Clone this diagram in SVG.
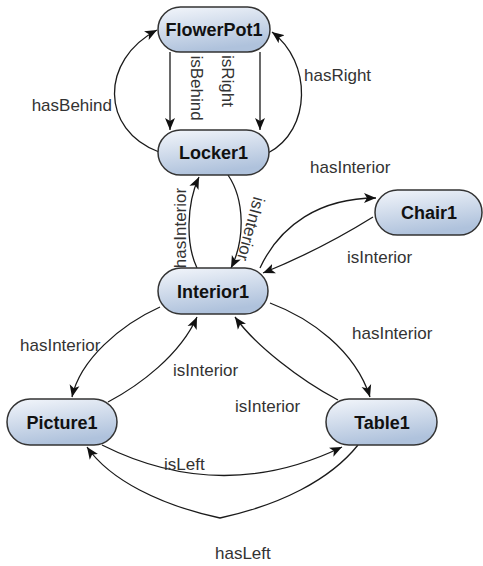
<svg xmlns="http://www.w3.org/2000/svg" width="483" height="566" viewBox="0 0 483 566">
<defs>
<linearGradient id="nodeFill" x1="0" y1="0" x2="0.3" y2="1">
<stop offset="0" stop-color="#f3f6fb"/>
<stop offset="1" stop-color="#afc2dc"/>
</linearGradient>
<marker id="arr" markerUnits="userSpaceOnUse" markerWidth="13" markerHeight="11" refX="12" refY="5" orient="auto" viewBox="0 0 13 10">
<path d="M0,0 L12,5 L0,10 L3,5 z" fill="#111"/>
</marker>
<style>
.node rect{fill:url(#nodeFill);stroke:#333;stroke-width:1.5}
.node text{font-family:"Liberation Sans",Arial,sans-serif;font-weight:bold;font-size:18px;fill:#111;text-anchor:middle}
.edge{fill:none;stroke:#1a1a1a;stroke-width:1.3;marker-end:url(#arr)}
.lbl{font-family:"Liberation Sans",Arial,sans-serif;font-size:17px;fill:#333}
</style>
</defs>
<rect width="483" height="566" fill="#fff"/>
<g id="connectors">
<path class="edge" d="M170,52 L170,130"/>
<path class="edge" d="M260,52 L260,130"/>
<path class="edge" d="M159,152 C 100,130 100,60 157,30"/>
<path class="edge" d="M268,153 C 312,130 312,62 272,32"/>
<path class="edge" d="M197,268 C 186,245 186,205 199,177"/>
<path class="edge" d="M228,175 C 245,200 245,240 231,268"/>
<path class="edge" d="M260,268 C 280,225 320,198 376,198"/>
<path class="edge" d="M373,217 Q 320,250 263,273"/>
<path class="edge" d="M160,307 C 120,325 80,360 72,397"/>
<path class="edge" d="M108,402 C 140,385 180,355 197,317"/>
<path class="edge" d="M338,400 C 300,380 255,345 235,317"/>
<path class="edge" d="M270,303 C 310,318 355,350 370,397"/>
<path class="edge" d="M102,445 Q 222,505 342,447"/>
<path class="edge" d="M358,445 C 330,480 280,505 220,518 C 160,505 110,480 87,447"/>
<text class="lbl" x="197" y="88" text-anchor="middle" transform="rotate(90 197 88)" dy="6">isBehind</text>
<text class="lbl" x="228" y="81" text-anchor="middle" transform="rotate(90 228 81)" dy="6">isRight</text>
<text class="lbl" x="112" y="111" text-anchor="end">hasBehind</text>
<text class="lbl" x="304" y="81">hasRight</text>
<text class="lbl" x="180" y="228" text-anchor="middle" transform="rotate(-90 180 228)" dy="6">hasInterior</text>
<text class="lbl" x="251" y="229" text-anchor="middle" transform="rotate(105 251 229)" dy="6">isInterior</text>
<text class="lbl" x="310" y="173">hasInterior</text>
<text class="lbl" x="347" y="263">isInterior</text>
<text class="lbl" x="20" y="351">hasInterior</text>
<text class="lbl" x="173" y="376">isInterior</text>
<text class="lbl" x="235" y="412">isInterior</text>
<text class="lbl" x="352" y="339">hasInterior</text>
<text class="lbl" x="164" y="470">isLeft</text>
<text class="lbl" x="215" y="559">hasLeft</text>
</g>
<g id="FlowerPot1" class="node"><rect x="158" y="7" width="112" height="45" rx="22.5"/><text x="214" y="36">FlowerPot1</text></g>
<g id="Locker1" class="node"><rect x="158" y="130" width="111" height="45" rx="22.5"/><text x="213.5" y="159">Locker1</text></g>
<g id="Chair1" class="node"><rect x="375" y="190" width="107" height="45" rx="22.5"/><text x="429" y="219">Chair1</text></g>
<g id="Interior1" class="node"><rect x="158" y="268" width="110" height="46" rx="23"/><text x="213" y="297.5">Interior1</text></g>
<g id="Picture1" class="node"><rect x="7" y="399" width="110" height="46" rx="23"/><text x="62" y="428.5">Picture1</text></g>
<g id="Table1" class="node"><rect x="326" y="399" width="111" height="46" rx="23"/><text x="382" y="428.5">Table1</text></g>
</svg>
